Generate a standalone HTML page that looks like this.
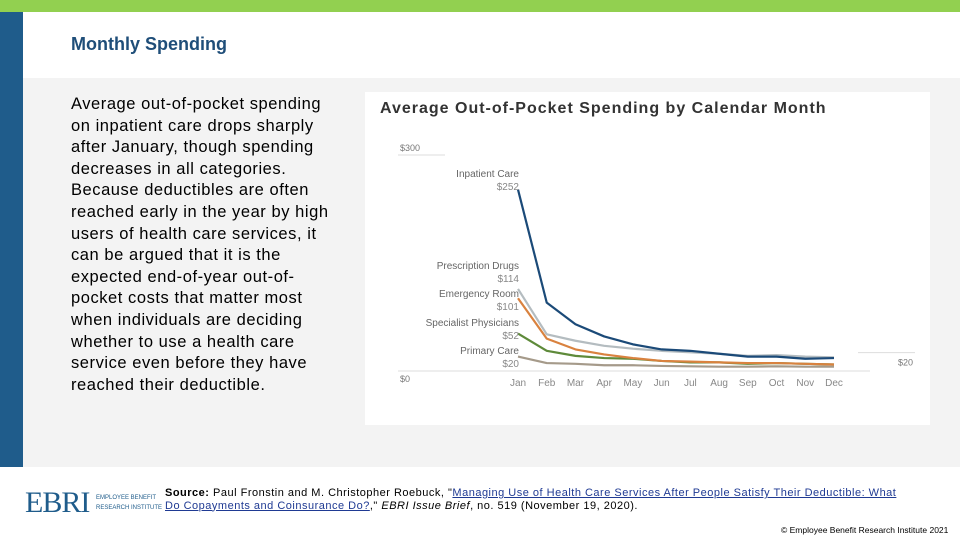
<!DOCTYPE html>
<html><head><meta charset="utf-8"><style>
body{margin:0;width:960px;height:540px;position:relative;overflow:hidden;background:#fff;font-family:"Liberation Sans",Arial,sans-serif}
div{position:absolute}
</style></head><body>
<div style="left:0;top:0;width:960px;height:12px;background:#92d050"></div>
<div style="left:0;top:12px;width:23px;height:455px;background:#1f5c8b"></div>
<div style="left:23px;top:78px;width:937px;height:389px;background:#f3f3f3"></div>
<div style="left:71px;top:34px;font-size:18px;font-weight:bold;color:#1f4e79">Monthly Spending</div>
<div style="left:71px;top:94px;white-space:nowrap;font-size:16.5px;letter-spacing:0.55px;line-height:21.6px;color:#000">Average out-of-pocket spending<br>on inpatient care drops sharply<br>after January, though spending<br>decreases in all categories.<br>Because deductibles are often<br>reached early in the year by high<br>users of health care services, it<br>can be argued that it is the<br>expected end-of-year out-of-<br>pocket costs that matter most<br>when individuals are deciding<br>whether to use a health care<br>service even before they have<br>reached their deductible.</div>
<div style="left:365px;top:92px;width:565px;height:333px;background:#fff"></div>
<div style="left:380px;top:100px;font-size:16px;letter-spacing:1px;font-weight:bold;color:#333">Average Out-of-Pocket Spending by Calendar Month</div>
<svg id="chart" width="960" height="540" style="position:absolute;left:0;top:0" font-family="Liberation Sans, sans-serif"></svg>
<div style="left:25px;top:486px;font-family:'Liberation Serif',serif;font-size:30px;color:#1f5c8b;letter-spacing:-1px">EBRI</div>
<div style="left:96px;top:493px;font-size:6px;line-height:10px;color:#1f5c8b">EMPLOYEE BENEFIT<br>RESEARCH INSTITUTE</div>
<div style="left:165px;top:487px;white-space:nowrap;font-size:11px;letter-spacing:0.5px;line-height:12.5px;color:#000"><b>Source:</b> Paul Fronstin and M. Christopher Roebuck, "<a style="color:#1f3a93;text-decoration:underline">Managing Use of Health Care Services After People Satisfy Their Deductible: What<br>Do Copayments and Coinsurance Do?</a>," <i>EBRI Issue Brief</i>, no. 519 (November 19, 2020).</div>
<div style="left:781px;top:525px;font-size:8.5px;color:#000">© Employee Benefit Research Institute 2021</div>
<script>
const months=["Jan","Feb","Mar","Apr","May","Jun","Jul","Aug","Sep","Oct","Nov","Dec"];
const inpatient=[252,95,65,48,37,30,28,24,20,20,17,18];
const rxDrugs=[114,51,42,35,31,28,26,24,21,22,20,19];
const emergency=[101,45,30,23,18,14,13,12,11,11,10,9];
const specialist=[52,28,21,18,17,14,12,12,10,11,10,9];
const primary=[20,11,10,8,8,7,6.5,6,6,6.5,6,6];
const seriesNames=["Inpatient Care","Prescription Drugs","Emergency Room","Specialist Physicians","Primary Care"];
const labelVals=["$252","$114","$101","$52","$20"];
const yTicks=[0,300];
const svg=document.getElementById('chart');const NS='http://www.w3.org/2000/svg';
const x=i=>518+i*(834-518)/11;const y=v=>371-v*216/300;
function mk(t,a){const e=document.createElementNS(NS,t);for(const k in a)e.setAttribute(k,a[k]);svg.appendChild(e);return e;}
let g=mk('line',{x1:398,x2:870,y1:y(0),y2:y(0),stroke:'#ddd'});


let g2=mk('line',{x1:398,x2:445,y1:y(300),y2:y(300),stroke:'#ddd'});


let g3=mk('line',{x1:858,x2:915,y1:y(20)-4,y2:y(20)-4,stroke:'#ddd'});


yTicks.forEach(v=>{const t=mk('text',{x:400,y:y(v)+(v?-4:11),'font-size':9,fill:'#777'});t.textContent='$'+v;

});
const et=mk('text',{x:913,y:y(20)+9,'font-size':9,fill:'#777','text-anchor':'end'});et.textContent='$20';


months.forEach((m,i)=>{const t=mk('text',{x:x(i),y:386,'font-size':10,fill:'#888','text-anchor':'middle'});t.textContent=m;

});
const data=[inpatient,rxDrugs,emergency,specialist,primary];
const colors=['#1b4a78','#b4bcc0','#d9823f','#5e8a3a','#a59a8a'];
const order=[4,3,2,1,0];
order.forEach(s=>{const d=data[s].map((v,i)=>(i?'L':'M')+x(i)+' '+y(v)).join(' ');
const p=mk('path',{d:d,fill:'none',stroke:colors[s],'stroke-width':2.2,'stroke-linejoin':'round'});

});
const labY=[177,269,297,326,354];
seriesNames.forEach((n,s)=>{const t=mk('text',{x:519,y:labY[s],'font-size':10,fill:'#666','text-anchor':'end'});t.textContent=n;


const v=mk('text',{x:519,y:labY[s]+13,'font-size':10,fill:'#888','text-anchor':'end'});v.textContent=labelVals[s];

});
</script>
</body></html>
